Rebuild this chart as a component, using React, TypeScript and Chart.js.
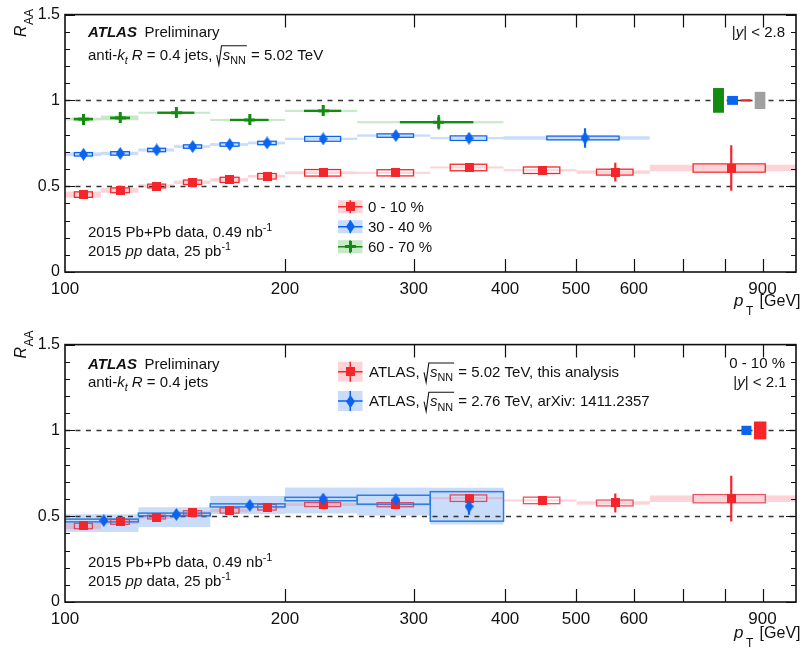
import { useEffect, useRef } from 'react';
import { Chart, registerables } from 'chart.js';

Chart.register(...registerables);

const FONT = '"Liberation Sans", Arial, Helvetica, sans-serif';
const INK = '#111';

// ---- axes -------------------------------------------------------------
const xTickValues = [100, 200, 300, 400, 500, 600, 700, 800, 900, 1000];
const xTickLabels = ['100', '200', '300', '400', '500', '600', '', '', '900', ''];
const yTickValues = [0, 0.5, 1, 1.5];
const yTickLabels = ['0', '0.5', '1', '1.5'];
const yMinorValues = [0.1, 0.2, 0.3, 0.4, 0.6, 0.7, 0.8, 0.9, 1.1, 1.2, 1.3, 1.4];
const refLines = [0.5, 1];

// ---- 5.02 TeV, 0-10 %, |y| < 2.8 ------------------------------------------
const edgesCentral = [100, 112, 126, 141, 158, 178, 200, 251, 316, 398, 501, 631, 1000];
const raaCentral = [0.451, 0.476, 0.501, 0.523, 0.537, 0.558, 0.578, 0.578, 0.609, 0.593, 0.582, 0.606];
const statCentral = [0.005, 0.005, 0.005, 0.006, 0.006, 0.007, 0.008, 0.010, 0.018, 0.025, 0.055, 0.133];
const sysCentral = [0.016, 0.014, 0.011, 0.013, 0.015, 0.016, 0.019, 0.018, 0.019, 0.019, 0.017, 0.024];
const normCentral = [0.018, 0.014, 0.010, 0.010, 0.010, 0.008, 0.008, 0.006, 0.006, 0.006, 0.010, 0.019];

// ---- 5.02 TeV, 30-40 % ------------------------------------------------------
const edgesMid = [100, 112, 126, 141, 158, 178, 200, 251, 316, 398, 631];
const raaMid = [0.686, 0.691, 0.711, 0.731, 0.743, 0.752, 0.776, 0.795, 0.780, 0.781];
const statMid = [0.008, 0.008, 0.008, 0.008, 0.009, 0.010, 0.010, 0.012, 0.020, 0.057];
const sysMid = [0.010, 0.010, 0.010, 0.010, 0.010, 0.010, 0.014, 0.010, 0.013, 0.011];
const normMid = [0.011, 0.010, 0.009, 0.008, 0.008, 0.008, 0.007, 0.007, 0.006, 0.010];

// ---- 5.02 TeV, 60-70 % ------------------------------------------------------
const edgesPeri = [100, 112, 126, 158, 200, 251, 398];
const raaPeri = [0.891, 0.898, 0.928, 0.886, 0.939, 0.873];
const statPeri = [0.022, 0.022, 0.024, 0.024, 0.024, 0.042];
const sysPeri = [0.004, 0.004, 0.003, 0.003, 0.003, 0.003];
const normPeri = [0.008, 0.014, 0.006, 0.006, 0.006, 0.006];

// ---- 5.02 TeV, 0-10 %, |y| < 2.1 ------------------------------------------
const raaCentral21 = [0.443, 0.467, 0.495, 0.519, 0.533, 0.552, 0.568, 0.567, 0.605, 0.592, 0.577, 0.602];
const statCentral21 = [0.005, 0.005, 0.005, 0.006, 0.006, 0.007, 0.008, 0.010, 0.018, 0.025, 0.055, 0.133];
const sysCentral21 = [0.016, 0.014, 0.011, 0.013, 0.015, 0.016, 0.012, 0.012, 0.019, 0.019, 0.017, 0.024];
const normCentral21 = [0.018, 0.014, 0.010, 0.010, 0.010, 0.008, 0.008, 0.006, 0.006, 0.006, 0.010, 0.019];

// ---- 2.76 TeV, 0-10 %, arXiv:1411.2357 --------------------------------------
const edges276 = [100, 126, 158, 200, 251, 316, 398];
const raa276 = [0.475, 0.510, 0.563, 0.600, 0.596, 0.557];
const stat276 = [0.008, 0.008, 0.009, 0.012, 0.015, 0.048];
const sys276 = [0.008, 0.008, 0.009, 0.010, 0.026, 0.086];
const bandUp276 = [0.036, 0.042, 0.055, 0.067, 0.071, 0.109];
const bandDown276 = [0.067, 0.073, 0.050, 0.084, 0.092, 0.105];

// ---- global (normalisation) uncertainties drawn at RAA = 1 ------------------
const globalLoTop = [770, 805, 842, 878];
const globalHiTop = [797, 833, 867, 908];
const globalHalfTop = [0.072, 0.026, 0.007, 0.05];
const globalLoBottom = [842, 876];
const globalHiBottom = [869, 911];
const globalHalfBottom = [0.027, 0.052];

// ---- colours ----------------------------------------------------------------
const RED = '#f5262b';
const BLUE = '#0a64f0';
const GREEN = '#118c11';
const GRAY = '#a0a0a0';
const RED_LIGHT = 'rgba(245, 120, 130, 0.32)';
const BLUE_LIGHT = 'rgba(90, 150, 240, 0.33)';
const GREEN_LIGHT = 'rgba(60, 170, 60, 0.28)';

type MarkerKind = 'square' | 'diamond' | 'cross';

interface Series {
  label: string;
  edges: number[];
  values: number[];
  stat: number[];
  sys: number[];
  bandUp: number[];
  bandDown: number[];
  color: string;
  light: string;
  boxStroke: string;
  marker: MarkerKind;
  fullWidthBox: boolean;
}

interface Run {
  t?: string;
  i?: boolean;
  b?: boolean;
  sub?: boolean;
  sup?: boolean;
  sqrt?: Run[];
}

interface Panel {
  height: number;
  padTop: number;
  series: Series[];
  order: number[];
  globLo: number[];
  globHi: number[];
  globHalf: number[];
  globColor: string[];
  decor: (ctx: CanvasRenderingContext2D, markers: HTMLCanvasElement[]) => void;
}

const centersOf = (edges: number[]) => edges.slice(0, -1).map((lo, i) => (lo + edges[i + 1]) / 2);

function makeMarker(kind: MarkerKind, color: string): HTMLCanvasElement {
  const c = document.createElement('canvas');
  if (kind === 'square') {
    c.width = 9;
    c.height = 9;
  } else if (kind === 'diamond') {
    c.width = 9;
    c.height = 13;
  } else {
    c.width = 11;
    c.height = 11;
  }
  const g = c.getContext('2d')!;
  g.fillStyle = color;
  if (kind === 'square') {
    g.fillRect(0, 0, 9, 9);
  } else if (kind === 'diamond') {
    g.beginPath();
    g.moveTo(4.5, 0);
    g.lineTo(9, 6.5);
    g.lineTo(4.5, 13);
    g.lineTo(0, 6.5);
    g.closePath();
    g.fill();
  } else {
    g.fillRect(0, 4, 11, 3);
    g.fillRect(4, 0, 3, 11);
  }
  return c;
}

// ---- rich text (italic / bold / sub / sup / square root) --------------------
function fontFor(r: Run, size: number) {
  const s = r.sub || r.sup ? size * 0.72 : size;
  return `${r.i ? 'italic ' : ''}${r.b ? 'bold ' : ''}${s}px ${FONT}`;
}

function runsWidth(ctx: CanvasRenderingContext2D, runs: Run[], size: number): number {
  let w = 0;
  for (const r of runs) {
    if (r.sqrt) {
      w += size * 0.42 + runsWidth(ctx, r.sqrt, size) + 1;
      continue;
    }
    ctx.font = fontFor(r, size);
    w += ctx.measureText(r.t || '').width;
  }
  return w;
}

function drawRuns(ctx: CanvasRenderingContext2D, runs: Run[], x: number, y: number, size: number): number {
  ctx.fillStyle = INK;
  ctx.strokeStyle = INK;
  ctx.textBaseline = 'alphabetic';
  ctx.textAlign = 'left';
  for (const r of runs) {
    if (r.sqrt) {
      const inner = runsWidth(ctx, r.sqrt, size);
      const rw = size * 0.42;
      ctx.save();
      ctx.lineWidth = 1.1;
      ctx.setLineDash([]);
      ctx.beginPath();
      ctx.moveTo(x + 0.3, y - size * 0.3);
      ctx.lineTo(x + rw * 0.38, y + size * 0.36);
      ctx.lineTo(x + rw * 0.8, y - size * 0.92);
      ctx.lineTo(x + rw + inner + 1, y - size * 0.92);
      ctx.stroke();
      ctx.restore();
      drawRuns(ctx, r.sqrt, x + rw, y, size);
      x += rw + inner + 1;
      continue;
    }
    ctx.font = fontFor(r, size);
    const dy = r.sub ? size * 0.3 : r.sup ? -size * 0.36 : 0;
    ctx.fillText(r.t || '', x, y + dy);
    x += ctx.measureText(r.t || '').width;
  }
  return x;
}

function drawRunsRight(ctx: CanvasRenderingContext2D, runs: Run[], right: number, y: number, size: number) {
  drawRuns(ctx, runs, right - runsWidth(ctx, runs, size), y, size);
}

const sqrtSNN: Run = { sqrt: [{ t: 's', i: true }, { t: 'NN', sub: true }] };

function drawLegendSymbol(
  ctx: CanvasRenderingContext2D,
  marker: HTMLCanvasElement,
  color: string,
  light: string,
  x: number,
  cy: number,
  w: number,
  h: number
) {
  ctx.save();
  ctx.fillStyle = light;
  ctx.fillRect(x, cy - h / 2, w, h);
  ctx.strokeStyle = color;
  ctx.lineWidth = 1.5;
  ctx.beginPath();
  ctx.moveTo(x, cy);
  ctx.lineTo(x + w, cy);
  ctx.moveTo(x + w / 2, cy - h / 2);
  ctx.lineTo(x + w / 2, cy + h / 2);
  ctx.stroke();
  ctx.drawImage(marker, Math.round(x + w / 2 - marker.width / 2), Math.round(cy - marker.height / 2));
  ctx.restore();
}

function drawYTitle(ctx: CanvasRenderingContext2D, x: number, y: number) {
  ctx.save();
  ctx.translate(x, y);
  ctx.rotate(-Math.PI / 2);
  ctx.fillStyle = INK;
  ctx.textBaseline = 'alphabetic';
  ctx.textAlign = 'left';
  ctx.font = `italic 16px ${FONT}`;
  ctx.fillText('R', 0, 0);
  const w = ctx.measureText('R').width;
  ctx.font = `12px ${FONT}`;
  ctx.fillText('AA', w + 0.5, 7.5);
  ctx.restore();
}

function drawXTitle(ctx: CanvasRenderingContext2D, y: number) {
  ctx.save();
  ctx.fillStyle = INK;
  ctx.textBaseline = 'alphabetic';
  ctx.textAlign = 'left';
  ctx.font = `italic 17px ${FONT}`;
  ctx.fillText('p', 734, y);
  ctx.font = `12px ${FONT}`;
  ctx.fillText('T', 746, y + 9);
  ctx.textAlign = 'right';
  ctx.font = `16px ${FONT}`;
  ctx.fillText('[GeV]', 800.5, y);
  ctx.restore();
}

function atlasLabel(ctx: CanvasRenderingContext2D, y: number) {
  drawRuns(ctx, [{ t: 'ATLAS', b: true, i: true }], 88, y, 15);
  drawRuns(ctx, [{ t: 'Preliminary' }], 144.5, y, 15);
}

function dataLabels(ctx: CanvasRenderingContext2D) {
  drawRuns(ctx, [{ t: '2015 Pb+Pb data, 0.49 nb' }, { t: '-1', sup: true }], 88, 236.5, 15);
  drawRuns(ctx, [{ t: '2015 ' }, { t: 'pp', i: true }, { t: ' data, 25 pb' }, { t: '-1', sup: true }], 88, 255.7, 15);
}

// ---- panels -----------------------------------------------------------------
const seriesCentral: Series = {
  label: '0 - 10 %',
  edges: edgesCentral,
  values: raaCentral,
  stat: statCentral,
  sys: sysCentral,
  bandUp: normCentral,
  bandDown: normCentral,
  color: RED,
  light: RED_LIGHT,
  boxStroke: RED,
  marker: 'square',
  fullWidthBox: false,
};
const seriesMid: Series = {
  label: '30 - 40 %',
  edges: edgesMid,
  values: raaMid,
  stat: statMid,
  sys: sysMid,
  bandUp: normMid,
  bandDown: normMid,
  color: BLUE,
  light: BLUE_LIGHT,
  boxStroke: BLUE,
  marker: 'diamond',
  fullWidthBox: false,
};
const seriesPeri: Series = {
  label: '60 - 70 %',
  edges: edgesPeri,
  values: raaPeri,
  stat: statPeri,
  sys: sysPeri,
  bandUp: normPeri,
  bandDown: normPeri,
  color: GREEN,
  light: GREEN_LIGHT,
  boxStroke: GREEN,
  marker: 'cross',
  fullWidthBox: false,
};
const seriesCentral21: Series = {
  label: 'ATLAS 5.02 TeV',
  edges: edgesCentral,
  values: raaCentral21,
  stat: statCentral21,
  sys: sysCentral21,
  bandUp: normCentral21,
  bandDown: normCentral21,
  color: RED,
  light: RED_LIGHT,
  boxStroke: 'rgba(228, 40, 60, 0.8)',
  marker: 'square',
  fullWidthBox: false,
};
const series276: Series = {
  label: 'ATLAS 2.76 TeV',
  edges: edges276,
  values: raa276,
  stat: stat276,
  sys: sys276,
  bandUp: bandUp276,
  bandDown: bandDown276,
  color: BLUE,
  light: BLUE_LIGHT,
  boxStroke: '#2a7de1',
  marker: 'diamond',
  fullWidthBox: true,
};

const topPanel: Panel = {
  height: 330,
  padTop: 9,
  series: [seriesPeri, seriesMid, seriesCentral],
  order: [0, 1, 2],
  globLo: globalLoTop,
  globHi: globalHiTop,
  globHalf: globalHalfTop,
  globColor: [GREEN, BLUE, RED, GRAY],
  decor: (ctx, markers) => {
    atlasLabel(ctx, 36.5);
    drawRuns(
      ctx,
      [
        { t: 'anti-' },
        { t: 'k', i: true },
        { t: 't', i: true, sub: true },
        { t: ' ' },
        { t: 'R', i: true },
        { t: ' = 0.4 jets, ' },
        sqrtSNN,
        { t: ' = 5.02 TeV' },
      ],
      88,
      59.5,
      15
    );
    drawRunsRight(ctx, [{ t: '|' }, { t: 'y', i: true }, { t: '| < 2.8' }], 785, 36.5, 15);
    dataLabels(ctx);
    const rows = [
      { s: seriesCentral, m: markers[2], cy: 206.7 },
      { s: seriesMid, m: markers[1], cy: 226.7 },
      { s: seriesPeri, m: markers[0], cy: 246.7 },
    ];
    for (const r of rows) {
      drawLegendSymbol(ctx, r.m, r.s.color, r.s.light, 338, r.cy, 24.5, 13);
      drawRuns(ctx, [{ t: r.s.label }], 368, r.cy + 5, 15);
    }
    drawYTitle(ctx, 25.5, 37);
    drawXTitle(ctx, 306);
  },
};

const bottomPanel: Panel = {
  height: 319,
  padTop: 11,
  series: [series276, seriesCentral21],
  order: [0, 1],
  globLo: globalLoBottom,
  globHi: globalHiBottom,
  globHalf: globalHalfBottom,
  globColor: [BLUE, RED],
  decor: (ctx, markers) => {
    atlasLabel(ctx, 39.3);
    drawRuns(
      ctx,
      [{ t: 'anti-' }, { t: 'k', i: true }, { t: 't', i: true, sub: true }, { t: ' ' }, { t: 'R', i: true }, { t: ' = 0.4 jets' }],
      88,
      56.7,
      15
    );
    drawRunsRight(ctx, [{ t: '0 - 10 %' }], 785, 38.3, 15);
    drawRunsRight(ctx, [{ t: '|' }, { t: 'y', i: true }, { t: '| < 2.1' }], 786.5, 56.7, 15);
    dataLabels(ctx);
    drawLegendSymbol(ctx, markers[1], RED, RED_LIGHT, 338, 41.7, 24.5, 20);
    drawRuns(ctx, [{ t: 'ATLAS, ' }, sqrtSNN, { t: ' = 5.02 TeV, this analysis' }], 369, 46.8, 15);
    drawLegendSymbol(ctx, markers[0], BLUE, BLUE_LIGHT, 338, 71, 24.5, 20);
    drawRuns(ctx, [{ t: 'ATLAS, ' }, sqrtSNN, { t: ' = 2.76 TeV, arXiv: 1411.2357' }], 369, 76, 15);
    drawYTitle(ctx, 25.5, 28.5);
    drawXTitle(ctx, 307.5);
  },
};

// ---- uncertainty layers, frame and labels -------------------------------------
function layersPlugin(panel: Panel, markers: HTMLCanvasElement[]) {
  return {
    id: 'raaLayers',
    beforeDatasetsDraw(chart: Chart) {
      const { ctx, chartArea: a } = chart;
      const xs = chart.scales.x;
      const ys = chart.scales.y;
      ctx.save();
      ctx.beginPath();
      ctx.rect(a.left, a.top, a.right - a.left, a.bottom - a.top);
      ctx.clip();

      // shaded bands across each full bin
      for (const s of panel.series) {
        ctx.fillStyle = s.light;
        s.values.forEach((v, i) => {
          const x0 = xs.getPixelForValue(s.edges[i]);
          const x1 = xs.getPixelForValue(s.edges[i + 1]);
          const y0 = ys.getPixelForValue(v + s.bandUp[i]);
          const y1 = ys.getPixelForValue(v - s.bandDown[i]);
          ctx.fillRect(x0, y0, x1 - x0, y1 - y0);
        });
      }

      // reference lines
      ctx.strokeStyle = '#333';
      ctx.lineWidth = 1.3;
      ctx.setLineDash([5, 5.5]);
      for (const r of refLines) {
        const py = Math.round(ys.getPixelForValue(r)) + 0.5;
        ctx.beginPath();
        ctx.moveTo(a.left, py);
        ctx.lineTo(a.right, py);
        ctx.stroke();
      }
      ctx.setLineDash([]);

      // systematic boxes
      for (const s of panel.series.slice().reverse()) {
        const centers = centersOf(s.edges);
        ctx.strokeStyle = s.boxStroke;
        ctx.lineWidth = s.fullWidthBox ? 1.5 : 1.3;
        s.values.forEach((v, i) => {
          const lo = s.edges[i];
          const hi = s.edges[i + 1];
          const q = (hi - lo) / 4;
          const xa = s.fullWidthBox ? lo : centers[i] - q;
          const xb = s.fullWidthBox ? hi : centers[i] + q;
          const x0 = xs.getPixelForValue(xa);
          const x1 = xs.getPixelForValue(xb);
          const y0 = ys.getPixelForValue(v + s.sys[i]);
          const y1 = ys.getPixelForValue(v - s.sys[i]);
          ctx.strokeRect(x0, y0, x1 - x0, y1 - y0);
        });
      }

      // statistical error bars
      for (const s of panel.series) {
        const centers = centersOf(s.edges);
        ctx.strokeStyle = s.color;
        ctx.lineWidth = 2.2;
        s.values.forEach((v, i) => {
          const px = xs.getPixelForValue(centers[i]);
          ctx.beginPath();
          ctx.moveTo(px, ys.getPixelForValue(v + s.stat[i]));
          ctx.lineTo(px, ys.getPixelForValue(v - s.stat[i]));
          ctx.stroke();
        });
      }

      // global uncertainties at unity
      panel.globLo.forEach((lo, i) => {
        const x0 = xs.getPixelForValue(lo);
        const x1 = xs.getPixelForValue(panel.globHi[i]);
        const y0 = ys.getPixelForValue(1 + panel.globHalf[i]);
        const y1 = ys.getPixelForValue(1 - panel.globHalf[i]);
        ctx.fillStyle = panel.globColor[i];
        ctx.fillRect(x0, y0, x1 - x0, y1 - y0);
      });
      ctx.restore();
    },
    afterDraw(chart: Chart) {
      const { ctx, chartArea: a } = chart;
      const xs = chart.scales.x;
      const ys = chart.scales.y;
      ctx.save();
      ctx.strokeStyle = INK;
      ctx.lineWidth = 1.2;
      ctx.beginPath();
      for (const v of xTickValues) {
        if (v <= 100 || v >= 1000) continue;
        const px = Math.round(xs.getPixelForValue(v)) + 0.5;
        ctx.moveTo(px, a.bottom);
        ctx.lineTo(px, a.bottom - 13);
        ctx.moveTo(px, a.top);
        ctx.lineTo(px, a.top + 13);
      }
      for (const v of yMinorValues) {
        const py = Math.round(ys.getPixelForValue(v)) + 0.5;
        ctx.moveTo(a.left, py);
        ctx.lineTo(a.left + 5, py);
        ctx.moveTo(a.right, py);
        ctx.lineTo(a.right - 5, py);
      }
      for (const v of yTickValues) {
        const py = Math.round(ys.getPixelForValue(v)) + 0.5;
        ctx.moveTo(a.left, py);
        ctx.lineTo(a.left + 10, py);
        ctx.moveTo(a.right, py);
        ctx.lineTo(a.right - 10, py);
      }
      ctx.stroke();
      ctx.lineWidth = 1.6;
      ctx.strokeRect(a.left, a.top, a.right - a.left, a.bottom - a.top);
      ctx.restore();
      ctx.save();
      panel.decor(ctx, markers);
      ctx.restore();
    },
  };
}

function buildPanel(canvas: HTMLCanvasElement, panel: Panel): Chart {
  const markers = panel.series.map((s) => makeMarker(s.marker, s.color));
  const datasets = panel.series.map((s, i) => ({
    label: s.label,
    data: centersOf(s.edges).map((x, k) => ({ x, y: s.values[k] })),
    pointStyle: markers[i],
    pointRadius: 5,
    order: panel.order[i],
  }));
  return new Chart(canvas, {
    type: 'scatter',
    data: { datasets },
    options: {
      responsive: false,
      animation: false,
      events: [],
      layout: { padding: { top: panel.padTop, right: 3, left: 0, bottom: 0 } },
      plugins: { legend: { display: false }, tooltip: { enabled: false } },
      scales: {
        x: {
          type: 'logarithmic',
          min: 100,
          max: 1000,
          afterBuildTicks: (sc: any) => {
            sc.ticks = xTickValues.map((value) => ({ value }));
          },
          afterFit: (sc: any) => {
            sc.height = panel.height - 272;
          },
          grid: { display: false, drawTicks: false },
          border: { display: false },
          ticks: {
            autoSkip: false,
            maxRotation: 0,
            minRotation: 0,
            padding: 7,
            color: INK,
            font: { family: FONT, size: 17 },
            callback: (_v: any, i: number) => xTickLabels[i],
          },
        },
        y: {
          min: 0,
          max: 1.5,
          afterBuildTicks: (sc: any) => {
            sc.ticks = yTickValues.map((value) => ({ value }));
          },
          afterFit: (sc: any) => {
            sc.width = 65;
          },
          grid: { display: false, drawTicks: false },
          border: { display: false },
          ticks: {
            padding: 5,
            color: INK,
            font: { family: FONT, size: 16 },
            callback: (_v: any, i: number) => yTickLabels[i],
          },
        },
      },
    } as any,
    plugins: [layersPlugin(panel, markers) as any],
  });
}

export default function App() {
  const topRef = useRef<HTMLCanvasElement>(null);
  const bottomRef = useRef<HTMLCanvasElement>(null);

  useEffect(() => {
    const top = buildPanel(topRef.current!, topPanel);
    const bottom = buildPanel(bottomRef.current!, bottomPanel);
    return () => {
      top.destroy();
      bottom.destroy();
    };
  }, []);

  return (
    <div style={{ position: 'absolute', left: 0, top: 0, width: 803, height: 649, background: '#fff' }}>
      <canvas ref={topRef} width={803} height={330} style={{ display: 'block' }} />
      <canvas ref={bottomRef} width={803} height={319} style={{ display: 'block' }} />
    </div>
  );
}
